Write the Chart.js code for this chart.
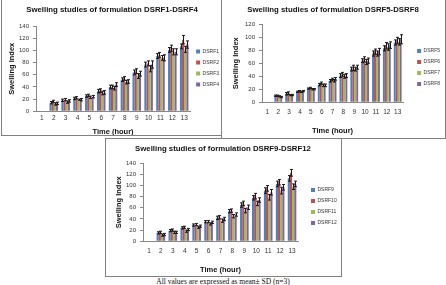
<!DOCTYPE html>
<html>
<head>
<meta charset="utf-8">
<script src="https://cdn.jsdelivr.net/npm/chart.js@4.4.0/dist/chart.umd.min.js"></script>
<style>
  body { margin: 0; background: #fff; width: 446px; height: 285px; position: relative; overflow: hidden; }
  .box { position: absolute; border: 1px solid #808080; box-sizing: border-box; background: #fff; }
  .box canvas { display: block; }
  #caption { position: absolute; left: 0; width: 446px; top: 277px; text-align: center;
             font-family: "Liberation Serif", serif; font-size: 7.5px; color: #111; }
</style>
</head>
<body>
<div class="box" style="left:1px; top:-1px; width:221px; height:137px;"><canvas id="c1"></canvas></div>
<div class="box" style="left:221px; top:-1px; width:225px; height:140px;"><canvas id="c2"></canvas></div>
<div class="box" style="left:105px; top:138px; width:237px; height:139px;"><canvas id="c3"></canvas></div>
<div id="caption">All values are expressed as mean± SD (n=3)</div>
<script>
// x categories (hours)
const hours = ['1','2','3','4','5','6','7','8','9','10','11','12','13'];

// DSRF1 - DSRF4
const dsrf1 = [null, 14, 18, 21, 25, 33, 40, 52, 64, 77, 91, 101, 107];
const dsrf2 = [null, 16, 19, 22, 26, 34, 40, 54, 66, 79, 93, 104, 118];
const dsrf3 = [null, 12, 15, 19, 23, 30, 38, 48, 58, 70, 88, 98, 102];
const dsrf4 = [null, 13, 17, 19, 24, 31, 44, 49, 62, 77, 88, 98, 110];
const sd1 = [0, 2, 2, 2, 2, 3, 3, 3, 4, 4, 4, 4, 4];
const sd2 = [0, 2, 2, 2, 2, 3, 3, 3, 4, 4, 4, 5, 7];
const sd3 = [0, 2, 2, 1, 2, 3, 3, 3, 4, 5, 4, 5, 5];
const sd4 = [0, 2, 2, 2, 2, 3, 3, 3, 4, 6, 5, 5, 6];

// DSRF5 - DSRF8
const dsrf5 = [null, 10, 13, 16, 21, 27, 33, 41, 51, 64, 75, 83, 92];
const dsrf6 = [null, 10, 14, 17, 22, 29, 35, 43, 53, 66, 78, 87, 95];
const dsrf7 = [null, 9, 11, 16, 20, 26, 33, 40, 51, 62, 75, 85, 93];
const dsrf8 = [null, 8, 11, 17, 20, 26, 36, 41, 54, 64, 78, 88, 97];
const sd5 = [0, 1, 2, 1, 1, 2, 2, 3, 3, 3, 4, 4, 4];
const sd6 = [0, 1, 2, 1, 1, 2, 2, 3, 4, 4, 4, 5, 5];
const sd7 = [0, 1, 1, 1, 1, 2, 2, 3, 3, 4, 4, 5, 5];
const sd8 = [0, 1, 1, 1, 1, 2, 2, 3, 3, 4, 5, 5, 7];

// DSRF9 - DSRF12
const dsrf9 = [null, 15, 19, 24, 29, 35, 42, 54, 65, 78, 91, 103, 113];
const dsrf10 = [null, 16, 20, 25, 30, 35, 43, 55, 68, 81, 95, 106, 123];
const dsrf11 = [null, 11, 16, 18, 25, 31, 37, 45, 55, 68, 79, 91, 98];
const dsrf12 = [null, 12, 16, 21, 27, 34, 40, 48, 61, 74, 88, 97, 103];
const sd9 = [0, 2, 2, 2, 2, 2, 3, 3, 4, 4, 5, 5, 5];
const sd10 = [0, 2, 2, 2, 2, 2, 3, 3, 4, 5, 5, 5, 6];
const sd11 = [0, 2, 2, 2, 2, 2, 3, 3, 4, 4, 5, 6, 5];
const sd12 = [0, 2, 2, 2, 2, 2, 3, 3, 4, 4, 5, 5, 5];

const colors = ['#4F81BD', '#C0504D', '#9BBB59', '#8064A2'];

// draws the +/- SD whiskers on top of each bar
const errorBars = {
    id: 'errorBars',
    afterDatasetsDraw(chart) {
        const ctx = chart.ctx;
        const y = chart.scales.y;
        ctx.save();
        ctx.strokeStyle = '#1a1a1a';
        ctx.lineWidth = 1;
        chart.data.datasets.forEach((ds, i) => {
            const meta = chart.getDatasetMeta(i);
            meta.data.forEach((bar, j) => {
                const v = ds.data[j];
                const e = ds.errors[j];
                if (v == null || !e) return;
                const x = Math.round(bar.x) + 0.5;
                const top = y.getPixelForValue(v + e);
                const bot = y.getPixelForValue(v - e);
                ctx.beginPath();
                ctx.moveTo(x, top); ctx.lineTo(x, bot);
                ctx.moveTo(x - 1.5, top); ctx.lineTo(x + 1.5, top);
                ctx.moveTo(x - 1.5, bot); ctx.lineTo(x + 1.5, bot);
                ctx.stroke();
            });
        });
        ctx.restore();
    }
};

// g: layout tweaks for each panel
function makeChart(id, w, h, title, names, values, errors, yMax, g) {
    const canvas = document.getElementById(id);
    canvas.width = w; canvas.height = h;
    canvas.style.width = w + 'px'; canvas.style.height = h + 'px';
    return new Chart(canvas.getContext('2d'), {
        type: 'bar',
        data: {
            labels: hours,
            datasets: names.map((n, i) => ({
                label: n,
                data: values[i],
                errors: errors[i],
                yAxisID: 'y',
                backgroundColor: colors[i],
                borderWidth: 0,
                categoryPercentage: 0.72,
                barPercentage: 1.0
            }))
        },
        options: {
            responsive: false,
            animation: false,
            devicePixelRatio: 1,
            layout: { padding: g.pad },
            scales: {
                x: {
                    grid: { drawOnChartArea: false, drawTicks: false, color: '#888' },
                    border: { color: '#888' },
                    ticks: { autoSkip: false, font: { family: 'Liberation Sans', size: 6.5 }, color: '#333', padding: g.tickPad, maxRotation: 0 },
                    title: { display: true, text: 'Time (hour)', font: { family: 'Liberation Sans', size: 7.5, weight: 'bold' }, color: '#111', padding: { top: g.xTitlePad, bottom: 0 } }
                },
                y: {
                    min: 0, max: yMax,
                    afterFit: s => { s.width = g.yWidth; },
                    grid: { drawOnChartArea: false, tickLength: 3, color: '#888' },
                    border: { color: '#888' },
                    ticks: { autoSkip: false, stepSize: 20, font: { family: 'Liberation Sans', size: 6 }, color: '#333', padding: 4 },
                    title: { display: true, text: 'Swelling Index', font: { family: 'Liberation Sans', size: 7.5, weight: 'bold' }, color: '#111', padding: { top: g.yTitlePad, bottom: 2 } }
                },
                // empty spacer between plot and legend
                gap: {
                    type: 'linear', position: 'right', display: true,
                    afterFit: s => { s.width = g.gap; },
                    grid: { display: false }, border: { display: false }, ticks: { display: false }
                }
            },
            plugins: {
                title: {
                    display: true, text: title,
                    font: { family: 'Liberation Sans', size: 7.8, weight: 'bold' }, color: '#111',
                    padding: { top: 5, bottom: g.titleGap }
                },
                legend: {
                    position: 'right',
                    labels: { boxWidth: 4, boxHeight: 4, padding: 6, color: '#333', font: { family: 'Liberation Sans', size: 5 } }
                },
                tooltip: { enabled: false }
            }
        },
        plugins: [errorBars]
    });
}

makeChart('c1', 219, 135, 'Swelling studies of formulation DSRF1-DSRF4',
    ['DSRF1', 'DSRF2', 'DSRF3', 'DSRF4'], [dsrf1, dsrf2, dsrf3, dsrf4], [sd1, sd2, sd3, sd4], 140,
    { pad: { left: -7, right: -8, top: 0, bottom: -1 }, yWidth: 41, yTitlePad: 12.5, gap: 0, titleGap: 12, tickPad: 3, xTitlePad: 2 });
makeChart('c2', 223, 138, 'Swelling studies of formulation DSRF5-DSRF8',
    ['DSRF5', 'DSRF6', 'DSRF7', 'DSRF8'], [dsrf5, dsrf6, dsrf7, dsrf8], [sd5, sd6, sd7, sd8], 120,
    { pad: { left: -6, right: -5, top: 0, bottom: 3 }, yWidth: 46, yTitlePad: 15.5, gap: 8, titleGap: 10, tickPad: 6, xTitlePad: 4 });
makeChart('c3', 235, 137, 'Swelling studies of formulation DSRF9-DSRF12',
    ['DSRF9', 'DSRF10', 'DSRF11', 'DSRF12'], [dsrf9, dsrf10, dsrf11, dsrf12], [sd9, sd10, sd11, sd12], 140,
    { pad: { left: -6, right: -5, top: 0, bottom: 2 }, yWidth: 43, yTitlePad: 14.5, gap: 7, titleGap: 10, tickPad: 6, xTitlePad: 4 });
</script>
</body>
</html>
